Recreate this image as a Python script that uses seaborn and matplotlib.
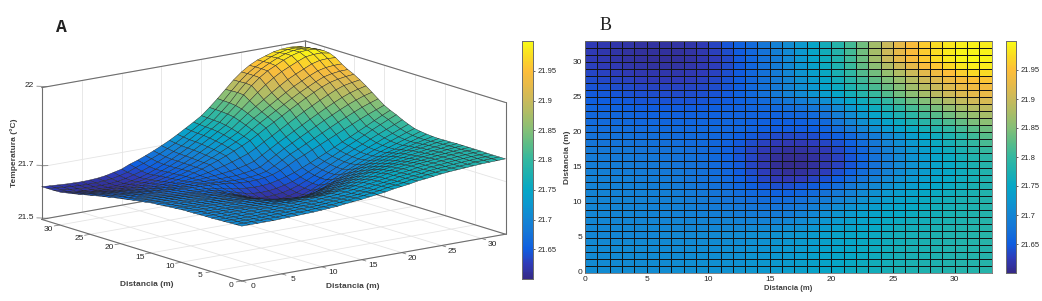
import numpy as np
import matplotlib
matplotlib.use("Agg")
import matplotlib.pyplot as plt
import seaborn as sns
from matplotlib.colors import LinearSegmentedColormap

# temperatura en milesimas por encima de 21 C, filas = y (0..33), columnas = x (0..33)
temp_milesimas = [
    [708,708,708,708,708,709,710,711,712,713,715,717,719,723,726,729,733,737,741,747,751,755,761,764,768,772,775,777,779,781,783,784,785,786],
    [707,707,707,707,707,708,709,710,711,712,714,715,717,721,724,727,731,735,739,745,749,753,759,763,767,771,774,776,778,780,783,784,785,786],
    [706,706,706,706,706,707,708,709,710,711,712,713,715,719,721,724,728,732,736,743,747,751,757,761,765,770,773,775,778,780,782,784,785,786],
    [705,705,705,705,705,706,707,707,708,709,710,711,712,716,718,721,725,729,734,740,745,749,756,760,764,768,772,774,777,780,782,784,785,786],
    [704,704,704,704,704,705,705,705,706,707,708,709,710,714,716,719,723,727,732,738,743,748,754,758,762,767,771,774,777,779,782,784,786,787],
    [703,703,703,703,703,703,704,704,704,705,706,707,708,711,713,716,720,724,729,736,741,746,753,757,761,766,770,773,776,779,782,784,786,787],
    [703,703,703,702,702,702,702,701,701,701,702,702,702,704,705,707,711,715,721,730,736,741,748,753,757,763,767,770,773,777,780,783,785,787],
    [702,702,701,701,700,700,699,699,698,697,697,697,696,696,696,698,702,707,714,722,729,735,743,749,754,759,763,767,771,775,778,782,785,787],
    [701,701,700,699,698,697,696,695,694,692,692,690,687,686,685,685,689,695,703,712,720,728,736,742,748,753,758,763,767,772,776,780,784,787],
    [701,700,699,698,697,696,695,693,691,689,687,684,681,679,677,676,679,684,691,700,710,718,726,734,741,747,753,759,764,769,774,778,783,786],
    [700,699,698,697,696,695,693,691,688,686,682,678,674,670,668,666,668,672,680,688,697,706,716,725,733,741,748,755,761,767,772,777,782,786],
    [698,697,696,695,694,693,691,689,686,682,679,674,668,663,658,655,656,660,667,675,685,695,705,715,725,733,741,749,756,762,768,774,780,785],
    [696,695,694,693,691,690,688,686,682,678,673,667,660,652,645,640,640,644,650,659,670,682,693,704,715,725,734,743,750,757,765,772,779,786],
    [694,693,692,691,689,688,686,683,679,675,671,663,654,644,634,625,623,626,632,641,653,666,679,692,704,715,726,735,744,752,761,770,779,788],
    [692,691,690,689,687,685,683,680,677,673,668,660,650,638,627,615,610,612,618,627,640,654,668,681,695,708,720,730,741,751,761,771,781,791],
    [690,689,688,687,685,683,681,678,675,671,665,657,647,634,621,609,604,606,611,619,630,644,659,674,689,704,717,729,741,752,763,774,785,795],
    [686,685,684,683,681,680,677,675,672,668,663,655,645,633,620,610,606,607,612,620,631,644,659,674,689,704,718,730,743,755,768,780,792,804],
    [683,682,681,680,678,676,674,672,669,666,662,654,644,634,624,616,612,614,618,625,635,648,662,677,692,707,721,735,748,762,775,788,801,814],
    [679,678,677,676,674,672,671,669,667,665,661,655,648,638,630,624,622,623,627,634,642,654,668,682,697,711,726,741,755,770,785,799,813,826],
    [675,674,673,672,670,669,668,667,665,664,662,658,653,647,641,637,635,636,639,646,654,664,677,690,704,718,733,748,762,777,792,807,822,836],
    [671,670,669,668,667,666,665,665,664,664,663,662,660,657,653,650,649,650,653,659,670,684,700,713,727,741,755,769,783,797,811,824,836,848],
    [667,666,665,663,662,661,660,660,660,660,660,660,658,656,654,652,652,654,658,665,680,697,714,728,743,758,773,788,803,817,831,844,855,865],
    [662,661,660,658,657,656,655,654,654,655,656,657,657,657,657,657,658,662,667,674,692,710,728,744,760,776,792,808,823,838,852,864,875,883],
    [658,656,655,653,651,650,649,649,649,650,652,654,656,659,661,664,668,673,680,689,707,725,743,760,777,794,811,827,843,858,872,884,893,900],
    [653,651,649,647,645,644,643,643,643,645,647,650,655,660,666,673,681,690,700,711,727,745,762,780,798,816,833,849,865,880,894,905,911,916],
    [648,646,644,642,640,638,637,637,638,640,643,648,655,663,672,683,694,706,719,733,748,766,785,802,820,838,855,872,888,903,915,922,927,930],
    [643,641,638,636,634,632,632,632,633,635,639,645,653,663,672,684,697,711,726,741,757,777,797,815,833,851,869,886,901,916,929,936,940,941],
    [638,635,632,630,627,625,625,626,628,631,635,643,651,662,673,685,700,716,732,748,765,787,808,827,846,865,884,902,917,932,945,952,955,955],
    [633,630,627,624,621,619,619,620,622,626,631,640,650,661,673,687,703,719,736,754,772,796,819,840,861,882,902,921,936,950,964,972,974,972],
    [629,625,622,618,616,614,614,615,618,622,628,637,648,660,674,688,705,722,740,759,778,804,829,855,881,905,926,944,958,972,984,988,988,982],
    [625,621,617,614,612,610,610,611,614,619,626,635,647,660,674,689,706,724,743,762,782,808,835,870,900,925,945,960,975,987,995,997,995,985],
    [624,620,617,614,612,611,611,612,615,621,629,638,649,662,676,691,707,725,744,763,783,810,838,872,902,926,946,962,976,987,994,995,993,983],
    [624,621,618,616,614,613,613,615,618,624,632,644,655,667,680,695,710,728,746,765,785,811,839,871,901,926,946,961,974,984,990,991,989,979],
    [624,622,620,618,617,616,617,619,623,630,637,650,660,672,685,699,714,731,749,767,786,812,840,870,900,925,945,960,970,980,985,987,985,975],
]
distancia = list(range(34))
ticks_dist = [0, 5, 10, 15, 20, 25, 30]
ticks_temp = [21.5, 21.7, 22]
ticks_cbar = [21.65, 21.7, 21.75, 21.8, 21.85, 21.9, 21.95]
etiquetas_cbar = ["21.65", "21.7", "21.75", "21.8", "21.85", "21.9", "21.95"]
colores_parula = ["#352a87", "#2f3bb8", "#0f5ee0", "#1573d8", "#1485d4", "#0c98cf",
                  "#06a7c6", "#1cb0b0", "#33b8a0", "#5abc88", "#84bf78", "#a8bd68",
                  "#c9ba5c", "#e6ba4a", "#fdbe3a", "#fadb24", "#f9fb15"]

temperatura = 21 + np.array(temp_milesimas) / 1000
parula = LinearSegmentedColormap.from_list("parula", colores_parula)
VMIN, VMAX = 21.6, 22.0
W, H = 1042, 301

sns.set_theme(style="white")
plt.rcParams["font.family"] = ["Liberation Sans", "DejaVu Sans"]
GRIS = "#6e6e6e"
TEXTO = "#262626"


def rect(x0, y0, x1, y1):
    """Caja en pixeles de la imagen a coordenadas de figura"""
    return [x0 / W, 1 - y1 / H, (x1 - x0) / W, (y1 - y0) / H]


def estilo_cbar(cax):
    cax.set_yticks(ticks_cbar)
    cax.set_yticklabels(etiquetas_cbar)
    cax.tick_params(axis="y", labelsize=5.5, length=1.5, width=0.5, pad=1.5,
                    colors=TEXTO, right=True, left=False)
    for sp in cax.spines.values():
        sp.set_visible(True)
        sp.set_color(GRIS)
        sp.set_linewidth(0.7)


fig = plt.figure(figsize=(W / 100, H / 100), dpi=100, facecolor="white")

# Panel A: superficie 3D
lado = 560
cx, cy = 266, 168.5
ax3 = fig.add_axes(rect(cx - lado / 2, cy - lado / 2, cx + lado / 2, cy + lado / 2),
                   projection="3d", computed_zorder=False)
ax3.patch.set_alpha(0)
ax3.set_proj_type("ortho")
ax3.view_init(elev=13.5, azim=-127.2)
ax3.set_box_aspect((1, 1, 135 / 330), zoom=0.845)
ax3.set_xlim(0, 33)
ax3.set_ylim(0, 33)
ax3.set_zlim(21.5, 22)
ax3.set_xticks([])
ax3.set_yticks([])
ax3.set_zticks([])
ax3.set_axis_off()

xs, ys = np.meshgrid(distancia, distancia)
x0, x1, z0, z1 = 0, 33, 21.5, 22

# rejilla de las paredes y el suelo
for v in ticks_dist:
    ax3.plot([v, v], [x0, x1], [z0, z0], color="#e4e4e4", lw=0.6, zorder=1)
    ax3.plot([x0, x1], [v, v], [z0, z0], color="#e4e4e4", lw=0.6, zorder=1)
    ax3.plot([v, v], [x1, x1], [z0, z1], color="#e4e4e4", lw=0.6, zorder=1)
    ax3.plot([x1, x1], [v, v], [z0, z1], color="#e4e4e4", lw=0.6, zorder=1)
for t in ticks_temp:
    ax3.plot([x0, x1], [x1, x1], [t, t], color="#e4e4e4", lw=0.6, zorder=1)
    ax3.plot([x1, x1], [x0, x1], [t, t], color="#e4e4e4", lw=0.6, zorder=1)

# caja
aristas = [
    ([x0, x1], [x0, x0], [z0, z0]), ([x0, x0], [x0, x1], [z0, z0]),
    ([x1, x1], [x0, x1], [z0, z0]), ([x0, x1], [x1, x1], [z0, z0]),
    ([x0, x1], [x1, x1], [z1, z1]), ([x1, x1], [x0, x1], [z1, z1]),
    ([x0, x0], [x1, x1], [z0, z1]), ([x1, x1], [x1, x1], [z0, z1]),
    ([x1, x1], [x0, x0], [z0, z1]),
]
for a in aristas:
    ax3.plot(*a, color=GRIS, lw=0.8, zorder=2)

surf = ax3.plot_surface(xs, ys, temperatura, rstride=1, cstride=1, cmap=parula,
                        vmin=VMIN, vmax=VMAX, shade=False, edgecolor="#222222",
                        linewidth=0.3, antialiased=True, zorder=3)

# marcas y etiquetas de los ejes
for v in ticks_dist:
    ax3.plot([v, v], [0, -0.7], [z0, z0], color=GRIS, lw=0.5, zorder=2)
    ax3.text(v - 0.6, -2.6, z0, str(v), fontsize=6, color=TEXTO, ha="center", va="center")
    ax3.plot([0, -0.7], [v, v], [z0, z0], color=GRIS, lw=0.5, zorder=2)
    ax3.text(-2.0, v - 0.8, z0, str(v), fontsize=6, color=TEXTO, ha="center", va="center")
for t in ticks_temp:
    ax3.plot([0, 0.8], [x1 + 0.8, x1], [t, t], color=GRIS, lw=0.5, zorder=2)
    ax3.text(0, x1 + 1.2, t, f"{t:g}", fontsize=6, color=TEXTO, ha="right", va="center")

fig.text(147 / W, 1 - 284 / H, "Distancia (m)", fontsize=6, fontweight="bold",
         color="#404040", ha="center", va="center")
fig.text(353 / W, 1 - 287 / H, "Distancia (m)", fontsize=6, fontweight="bold",
         color="#404040", ha="center", va="center")
fig.text(14 / W, 1 - 153 / H, "Temperatura (°C)", fontsize=6, fontweight="bold",
         color="#404040", ha="center", va="center", rotation=90)
fig.text(61 / W, 1 - 27 / H, "A", fontsize=13, family="Liberation Mono", fontweight="bold",
         color="#222222", ha="center", va="center")
fig.text(606 / W, 1 - 25 / H, "B", fontsize=13, family="Liberation Serif", color="#222222",
         ha="center", va="center")

cax_a = fig.add_axes(rect(522, 41, 533, 279))
cb_a = fig.colorbar(surf, cax=cax_a)
estilo_cbar(cb_a.ax)
cb_a.outline.set_edgecolor(GRIS)
cb_a.outline.set_linewidth(0.7)

# Panel B: mapa de calor
ax_b = fig.add_axes(rect(585, 41, 991.5, 273))
cax_b = fig.add_axes(rect(1005.5, 41, 1016, 273))
sns.heatmap(temperatura[:-1, :-1], ax=ax_b, cbar_ax=cax_b, cmap=parula, vmin=VMIN, vmax=VMAX,
            linewidths=0.45, linecolor="#141414", square=False)
ax_b.invert_yaxis()
ax_b.set_xticks(ticks_dist)
ax_b.set_xticklabels(ticks_dist, rotation=0)
ax_b.set_yticks(ticks_dist)
ax_b.set_yticklabels(ticks_dist, rotation=0)
ax_b.tick_params(labelsize=6, length=0, pad=2, colors=TEXTO)
ax_b.set_xlabel("Distancia (m)", fontsize=5.5, fontweight="bold", color="#404040", labelpad=1.5)
ax_b.set_ylabel("Distancia (m)", fontsize=6, fontweight="bold", color="#404040", labelpad=1)
for sp in ax_b.spines.values():
    sp.set_visible(True)
    sp.set_color(GRIS)
    sp.set_linewidth(0.6)
estilo_cbar(cax_b)

fig.savefig("out.png", dpi=100)
